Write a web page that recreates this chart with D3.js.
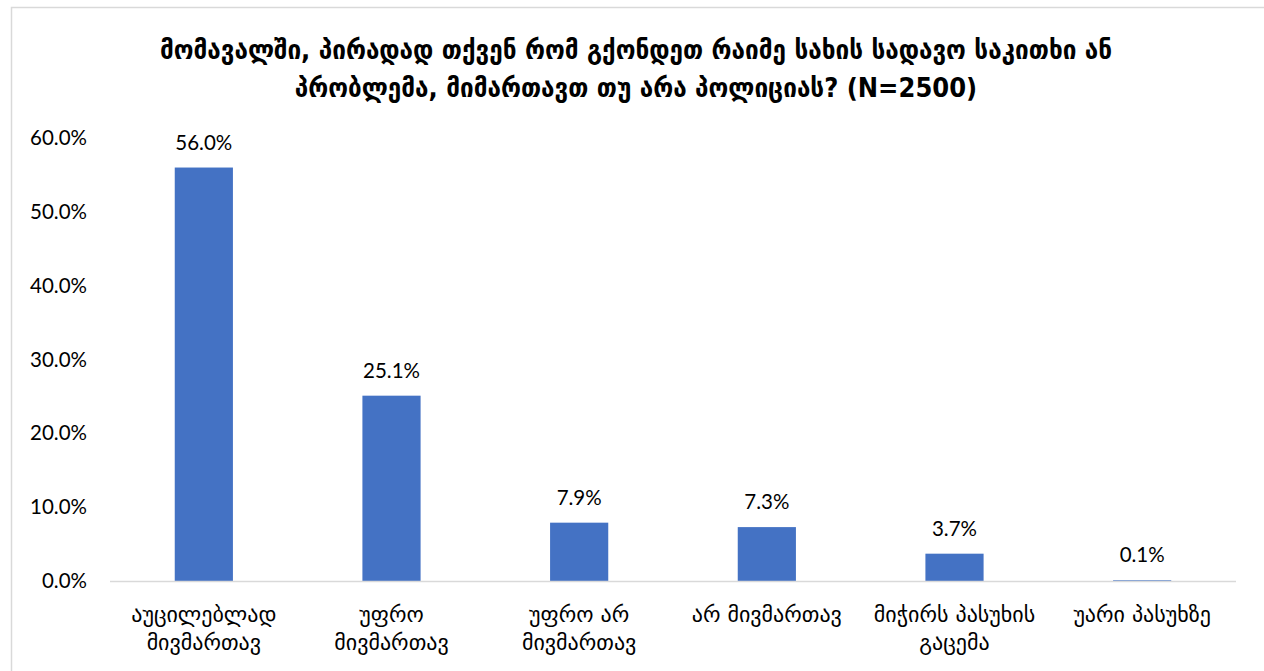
<!DOCTYPE html>
<html>
<head>
<meta charset="utf-8">
<script src="https://cdn.jsdelivr.net/npm/d3@7"></script>
<style>
body { margin: 0; background: #fff; }
svg { display: block; }
</style>
</head>
<body>
<svg></svg>
<script>
var width = 1264;
var height = 671;

var titleLines = ["მომავალში, პირადად თქვენ რომ გქონდეთ რაიმე სახის სადავო საკითხი ან",
	"პრობლემა, მიმართავთ თუ არა პოლიციას? (N=2500)"];
var categories = [
	["აუცილებლად", "მივმართავ"],
	["უფრო", "მივმართავ"],
	["უფრო არ", "მივმართავ"],
	["არ მივმართავ"],
	["მიჭირს პასუხის", "გაცემა"],
	["უარი პასუხზე"]
];
var values = [56.0, 25.1, 7.9, 7.3, 3.7, 0.1];
var yTicks = [0, 10, 20, 30, 40, 50, 60];

var svg = d3.select("svg").attr("width", width).attr("height", height);

// chart frame
svg.append("rect")
	.attr("x", 11.5).attr("y", 7.5)
	.attr("width", 1270).attr("height", 680)
	.attr("fill", "none")
	.attr("stroke", "#d9d9d9")
	.attr("stroke-width", 1.5);

var margin = {left: 110, right: 28, top: 138, bottom: 90};

var x = d3.scaleBand()
	.domain(d3.range(categories.length))
	.range([margin.left, width - margin.right])
	.paddingInner(0.69)
	.paddingOuter(0.345);

var y = d3.scaleLinear()
	.domain([0, 60])
	.range([581, margin.top]);

var numFont = "Lato, 'Open Sans', 'DejaVu Sans', sans-serif";
var geoFont = "'DejaVu Sans Condensed', 'DejaVu Sans', sans-serif";

// title
svg.append("g").selectAll("text")
	.data(titleLines)
	.enter().append("text")
	.attr("x", 636)
	.attr("y", function(d, i) { return 59 + i * 38; })
	.attr("text-anchor", "middle")
	.style("font-family", geoFont)
	.style("font-size", "27px")
	.style("font-weight", "bold")
	.style("fill", "#000")
	.text(function(d) { return d; });

// y axis labels
var yAxis = d3.axisLeft(y)
	.tickValues(yTicks)
	.tickSize(0)
	.tickPadding(0)
	.tickFormat(function(d) { return d3.format(".1f")(d) + "%"; });

var yg = svg.append("g")
	.attr("transform", "translate(87,0)")
	.call(yAxis);
yg.select(".domain").remove();
yg.selectAll("text")
	.style("font-family", numFont)
	.style("font-size", "20.5px")
	.style("fill", "#000");

// bars
svg.append("g").selectAll("rect")
	.data(values)
	.enter().append("rect")
	.attr("x", function(d, i) { return x(i); })
	.attr("y", function(d) { return y(d); })
	.attr("width", x.bandwidth())
	.attr("height", function(d) { return y(0) - y(d); })
	.attr("fill", "#4472c4");

// x axis line
svg.append("line")
	.attr("x1", margin.left).attr("x2", width - margin.right)
	.attr("y1", y(0) + 0.5).attr("y2", y(0) + 0.5)
	.attr("stroke", "#d9d9d9")
	.attr("stroke-width", 1.5);

// value labels
svg.append("g").selectAll("text")
	.data(values)
	.enter().append("text")
	.attr("x", function(d, i) { return x(i) + x.bandwidth() / 2; })
	.attr("y", function(d) { return y(d) - 18; })
	.attr("text-anchor", "middle")
	.style("font-family", numFont)
	.style("font-size", "20.5px")
	.style("fill", "#000")
	.text(function(d) { return d3.format(".1f")(d) + "%"; });

// category labels
var cat = svg.append("g").selectAll("text")
	.data(categories)
	.enter().append("text")
	.attr("text-anchor", "middle")
	.style("font-family", "'DejaVu Sans', sans-serif")
	.style("font-size", "22px")
	.style("fill", "#000");

cat.selectAll("tspan")
	.data(function(d, i) { return d.map(function(s) { return {s: s, i: i}; }); })
	.enter().append("tspan")
	.attr("x", function(d) { return x(d.i) + x.bandwidth() / 2; })
	.attr("y", function(d, j) { return 622 + j * 28; })
	.text(function(d) { return d.s; });
</script>
</body>
</html>
